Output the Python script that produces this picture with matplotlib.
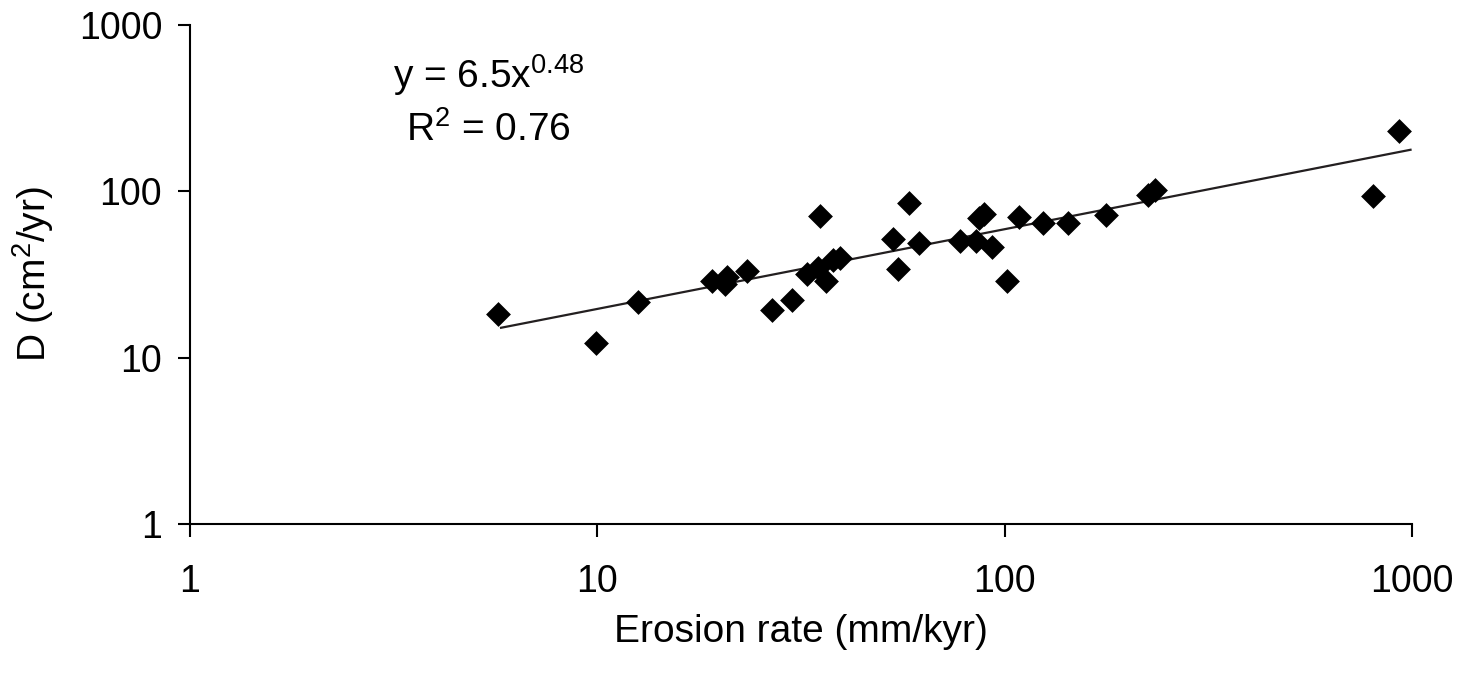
import numpy as np
import matplotlib
matplotlib.use('Agg')
import matplotlib.pyplot as plt

plt.rcParams['font.family'] = ['Liberation Sans', 'DejaVu Sans']
plt.rcParams['mathtext.default'] = 'regular'

# erosion rate (mm/kyr) and diffusivity D (cm2/yr)
erosion = [5.69, 9.9, 12.6, 19.1, 20.8, 20.6, 23.3, 26.8, 30.1, 35.2,
           32.6, 34.7, 36.3, 37.9, 39.4, 54.8, 53.1, 58.1, 61.5, 77.6,
           85.0, 86.6, 88.9, 92.9, 101.4, 108.4, 124.3, 143.2, 177.2,
           224.3, 233.7, 800, 925]
D = [18.2, 12.2, 21.7, 29.0, 30.7, 27.7, 33.4, 19.3, 22.2, 71.5,
     31.7, 34.5, 29.0, 38.7, 39.6, 34.2, 51.8, 84.9, 48.8, 50.4,
     50.4, 69.5, 72.9, 46.1, 29.0, 69.9, 64.3, 64.3, 71.9,
     95.3, 102.1, 94.3, 232.3]

# power-law trendline y = a * x^b, drawn over this x range
coef_a = 6.5
coef_b = 0.48
r2 = 0.76
trend_x = [5.8, 990]

ticks = [1, 10, 100, 1000]
tick_labels = ['1', '10', '100', '1000']

fig = plt.figure(figsize=(14.72, 6.73), dpi=100)
ax = fig.add_axes([190/1472, 1 - 523.7/673, 1222.3/1472, 498.4/673])

ax.scatter(erosion, D, marker='D', s=160, color='black', zorder=3, linewidths=0)

xfit = np.logspace(np.log10(trend_x[0]), np.log10(trend_x[1]), 50)
ax.plot(xfit, coef_a * xfit ** coef_b, color='#231f20', lw=1.6, zorder=2)

ax.set_xscale('log')
ax.set_yscale('log')
ax.set_xlim(1, 1000)
ax.set_ylim(1, 1000)
ax.set_xticks(ticks)
ax.set_xticklabels(tick_labels)
ax.set_yticks(ticks)
ax.set_yticklabels(tick_labels)
ax.minorticks_off()

for s in ['top', 'right']:
    ax.spines[s].set_visible(False)
for s in ['left', 'bottom']:
    ax.spines[s].set_linewidth(1.5)

ax.tick_params(axis='both', direction='out', length=9, width=1.5, labelsize=27)
ax.tick_params(axis='y', pad=11)
ax.tick_params(axis='x', pad=20)

ax.set_xlabel('Erosion rate (mm/kyr)', fontsize=28, labelpad=10)
ax.set_ylabel('D (cm$^2$/yr)', fontsize=28, labelpad=16)

ax.text(0.244, 0.90, 'y = %.1fx$^{%.2f}$' % (coef_a, coef_b), transform=ax.transAxes,
        ha='center', va='center', fontsize=28)
ax.text(0.244, 0.79, 'R$^2$ = %.2f' % r2, transform=ax.transAxes,
        ha='center', va='center', fontsize=28)

fig.savefig('out.png', dpi=100)
